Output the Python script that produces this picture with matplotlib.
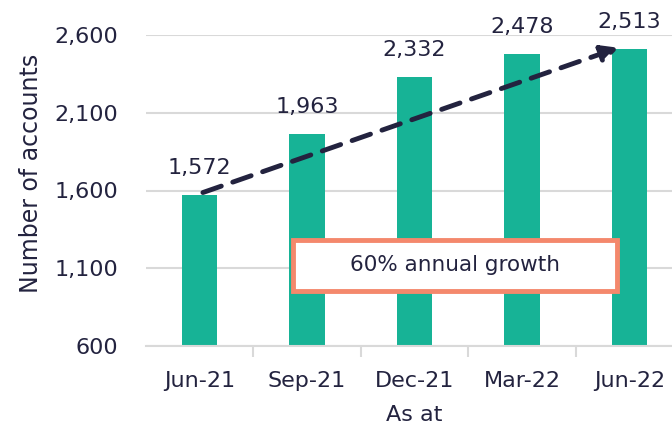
import matplotlib
matplotlib.use("Agg")
import matplotlib.pyplot as plt
from matplotlib.patches import Rectangle

categories = ["Jun-21", "Sep-21", "Dec-21", "Mar-22", "Jun-22"]
accounts = [1572, 1963, 2332, 2478, 2513]
yticks = [600, 1100, 1600, 2100, 2600]
growth_text = "60% annual growth"

plt.rcParams['font.family'] = ['DejaVu Sans']
navy = '#23233F'
teal = '#17B396'
FS = 16

fig = plt.figure(figsize=(6.72, 4.29), dpi=100)
ax = fig.add_axes([146/672, 1-346/429, (683-146)/672, (346-35)/429])

x = list(range(len(categories)))
ax.bar(x, accounts, width=0.33, color=teal, zorder=3)
ax.set_xlim(-0.5, 4.5)
ax.set_ylim(600, 2600)
ax.set_yticks(yticks)
ax.set_yticklabels([f"{v:,}" for v in yticks], fontsize=FS, color=navy)
ax.set_xticks(x)
ax.set_xticklabels(categories, fontsize=FS, color=navy)
ax.tick_params(axis='y', length=0, pad=20)
ax.tick_params(axis='x', length=0, pad=18)
ax.set_xticks([i + 0.5 for i in range(len(categories) - 1)], minor=True)
ax.tick_params(axis='x', which='minor', length=8, width=1.5, color='#D9D9D9')
ax.grid(axis='y', color='#D9D9D9', linewidth=1.5, zorder=0)
for s in ['top', 'right', 'left']:
    ax.spines[s].set_visible(False)
ax.spines['bottom'].set_color('#D9D9D9')
ax.spines['bottom'].set_linewidth(1.5)
ax.spines['bottom'].set_zorder(4)

for xi, v in zip(x, accounts):
    ax.annotate(f"{v:,}", (xi, v), xytext=(0, 12), textcoords='offset points',
                ha='center', va='bottom', fontsize=FS, color=navy, annotation_clip=False)

ax.set_ylabel("Number of accounts", fontsize=17, color=navy)
ax.yaxis.set_label_coords(-0.192, 0.556)
ax.set_xlabel("As at", fontsize=FS, color=navy, labelpad=10)

ax.annotate("", xy=(3.9, accounts[-1] + 5), xytext=(0.03, accounts[0] + 15),
            arrowprops=dict(arrowstyle='-|>,head_length=1.0,head_width=0.5', color=navy,
                            lw=3.5, linestyle=(0, (4, 2.5)), shrinkA=0, shrinkB=0),
            zorder=5)

box = Rectangle((0.274, 0.177), 0.877 - 0.274, 0.341 - 0.177, transform=ax.transAxes,
                facecolor='white', edgecolor='#F4886C', lw=3.5, zorder=6, clip_on=False)
ax.add_patch(box)
ax.text(0.575, 0.259, growth_text, transform=ax.transAxes, ha='center', va='center',
        fontsize=15.5, color=navy, zorder=7)
fig.savefig("out.png", dpi=100)
